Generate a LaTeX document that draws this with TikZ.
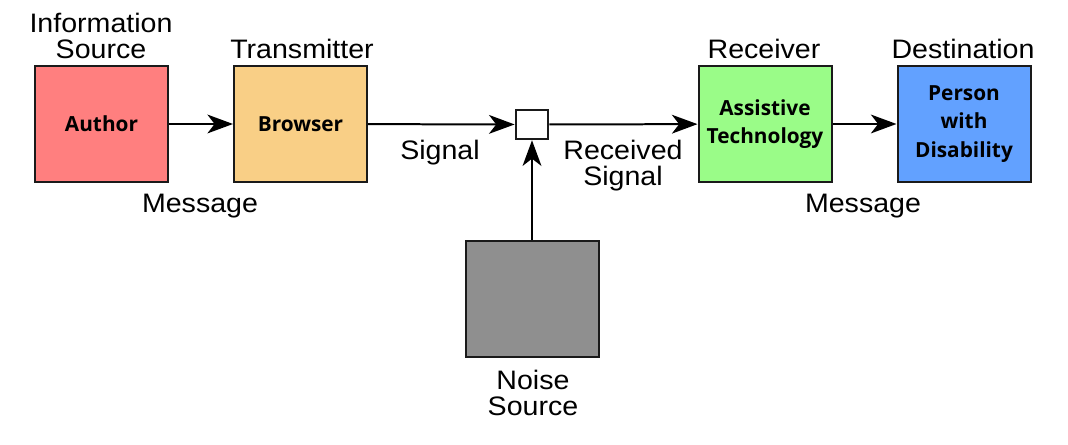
\documentclass[tikz,border=0pt]{standalone}
\usepackage{fontspec}
\setmainfont[FakeStretch=1.07]{Liberation Sans}
\newfontfamily\boxfont{Open Sans}
\usepackage{tikz}
\usetikzlibrary{arrows.meta}
\pgfdeclarelayer{edgelayer}
\pgfdeclarelayer{nodelayer}
\pgfsetlayers{edgelayer,nodelayer,main}
\definecolor{authorred}{HTML}{FF7F7F}
\definecolor{browserorange}{HTML}{F9CF86}
\definecolor{atgreen}{HTML}{9AFC88}
\definecolor{personblue}{HTML}{62A1FF}
\definecolor{noisegray}{HTML}{8F8F8F}
\definecolor{border}{HTML}{1A1A1A}
\tikzstyle{none}=[inner sep=0pt]
\tikzstyle{caption}=[inner sep=0pt, align=center, font=\fontsize{19}{18.5}\selectfont]
\tikzstyle{block}=[rectangle, draw=border, line width=1.42pt, minimum width=3.325cm, minimum height=2.9cm, align=center, font=\boxfont\bfseries\fontsize{14.8}{20.3}\selectfont]
\tikzstyle{junction}=[rectangle, draw=border, fill=white, line width=1.42pt, minimum width=0.82cm, minimum height=0.74cm]
\tikzstyle{edge}=[draw=black, line width=1.42pt, -{Stealth[length=0.64cm, width=0.47cm, inset=0.18cm]}]

\begin{document}
\begin{tikzpicture}
			\useasboundingbox (0, 0) rectangle (26.7, 11.125);
			\begin{pgfonlayer}{nodelayer}
			\node [style=block, fill=authorred] (0) at (2.5375, 8.025) {Author};
			\node [style=block, fill=browserorange] (1) at (7.5125, 8.025) {Browser};
			\node [style=junction] (2) at (13.3, 8.0125) {};
			\node [style=block, fill=atgreen] (3) at (19.125, 8.025) {Assistive\\Technology};
			\node [style=block, fill=personblue] (4) at (24.1, 8.025) {Person\\with\\Disability};
			\node [style=block, fill=noisegray] (5) at (13.3, 3.65) {};
			\node [style=caption] (6) at (2.525, 10.23) {Information\\Source};
			\node [style=caption] (7) at (7.55, 9.9) {Transmitter};
			\node [style=caption] (8) at (19.1, 9.9) {Receiver};
			\node [style=caption] (9) at (24.075, 9.9) {Destination};
			\node [style=caption] (10) at (5.0, 5.97) {Message};
			\node [style=caption] (11) at (11.0, 7.3) {Signal};
			\node [style=caption] (12) at (15.575, 6.98) {Received\\Signal};
			\node [style=caption] (13) at (21.575, 5.97) {Message};
			\node [style=caption] (14) at (13.325, 1.3) {Noise\\Source};
			\end{pgfonlayer}
			\begin{pgfonlayer}{edgelayer}
			\draw [style=edge] (0) to (1);
			\draw [style=edge] (1) to (2);
			\draw [style=edge] (2) to (3);
			\draw [style=edge] (3) to (4);
			\draw [style=edge] (5) to (2);
			\end{pgfonlayer}
\end{tikzpicture}
\end{document}
